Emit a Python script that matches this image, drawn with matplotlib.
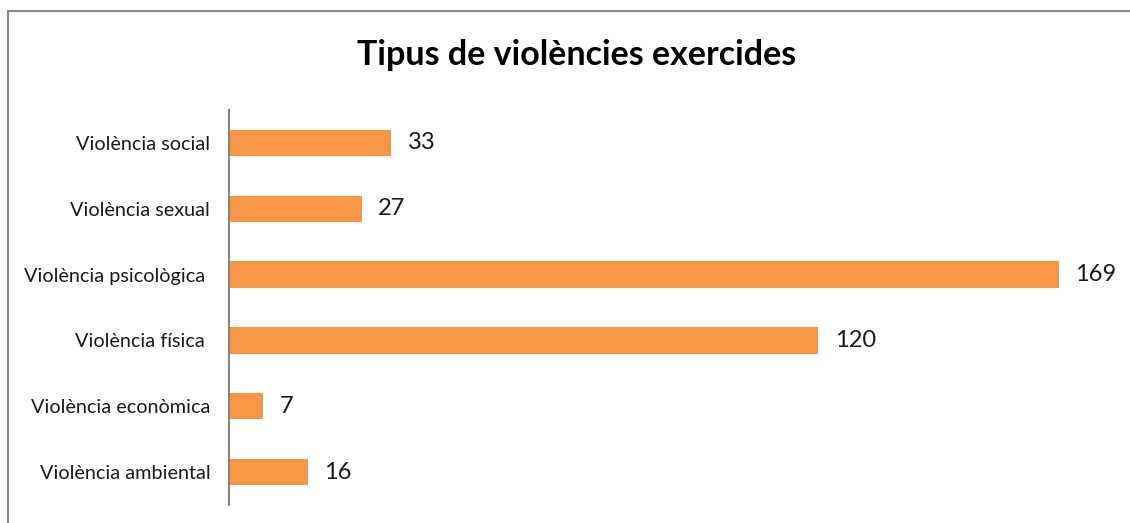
import matplotlib.pyplot as plt
from matplotlib.lines import Line2D

# dades (de baix a dalt)
categories = ["Violència ambiental", "Violència econòmica", "Violència física ",
              "Violència psicològica ", "Violència sexual", "Violència social"]
values = [16, 7, 120, 169, 27, 33]

W, H = 1130, 523
fig = plt.figure(figsize=(W / 100, H / 100), dpi=100)
plt.rcParams['font.family'] = ['Lato', 'DejaVu Sans']

# marc del gràfic (només es veuen el costat superior i l'esquerre)
fig.add_artist(Line2D([8 / W, 8 / W], [0, 1 - 11 / H], color="#878787", lw=1.5,
                      transform=fig.transFigure))
fig.add_artist(Line2D([8 / W, 1], [1 - 11 / H, 1 - 11 / H], color="#878787", lw=1.5,
                      transform=fig.transFigure))

ax = fig.add_axes([229 / W, 1 - 505 / H, (1100 - 229) / W, (505 - 110) / H])
y = range(len(categories))
ax.barh(y, values, height=0.4, color="#F79646")
ax.set_xlim(0, 871 / 4.91)
ax.set_ylim(-0.5, len(categories) - 0.5)

for s in ["top", "right", "bottom"]:
    ax.spines[s].set_visible(False)
ax.spines["left"].set_color("#868686")
ax.spines["left"].set_linewidth(1.5)
ax.set_xticks([])
ax.set_yticks(list(y))
ax.set_yticklabels(categories, fontsize=14.3, color="#1a1a1a")
ax.tick_params(axis="y", length=0, pad=13.5)

for i, v in enumerate(values):
    ax.text(v + 3.4, i, str(v), va="center", ha="left", fontsize=17, color="#1a1a1a")

fig.text(577 / W, 1 - 55 / H, "Tipus de violències exercides", ha="center", va="center",
         fontsize=24.5, fontweight="bold", color="#000000")

fig.savefig("out.png", dpi=100)
